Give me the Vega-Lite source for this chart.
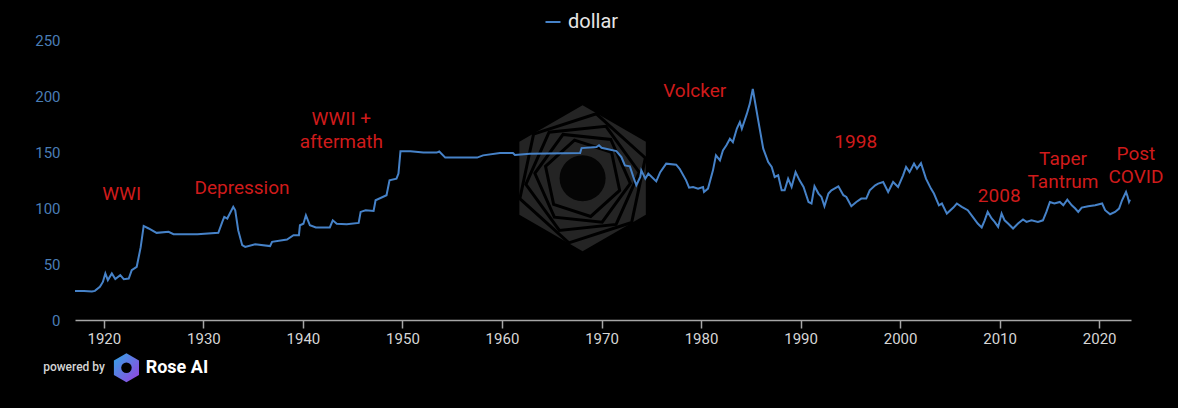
{
  "$schema": "https://vega.github.io/schema/vega-lite/v6.json",
  "width": 1056,
  "height": 280,
  "autosize": "none",
  "padding": {"left": 75, "top": 40, "right": 47, "bottom": 88},
  "background": "#000000",
  "config": {"view": {"stroke": null}, "font": "Roboto"},
  "datasets": {
    "dollar": [
      {"year": 1917.1, "value": 26}, {"year": 1918.0, "value": 26}, {"year": 1918.8, "value": 25.5}, {"year": 1919.1, "value": 26},
      {"year": 1919.6, "value": 29.7}, {"year": 1919.9, "value": 34}, {"year": 1920.15, "value": 41.6}, {"year": 1920.4, "value": 35.6},
      {"year": 1920.8, "value": 41.6}, {"year": 1921.15, "value": 36.5}, {"year": 1921.65, "value": 40}, {"year": 1922.0, "value": 36.5},
      {"year": 1922.5, "value": 37}, {"year": 1922.8, "value": 44.5}, {"year": 1923.3, "value": 47.5}, {"year": 1923.7, "value": 65},
      {"year": 1924.0, "value": 84}, {"year": 1924.5, "value": 81.7}, {"year": 1925.3, "value": 77.8}, {"year": 1926.5, "value": 78.7},
      {"year": 1927.0, "value": 76.6}, {"year": 1929.4, "value": 76.6}, {"year": 1931.5, "value": 77.8}, {"year": 1931.9, "value": 87.6},
      {"year": 1932.1, "value": 92}, {"year": 1932.4, "value": 90.6}, {"year": 1933.0, "value": 101}, {"year": 1933.2, "value": 98},
      {"year": 1933.5, "value": 80}, {"year": 1933.9, "value": 66.8}, {"year": 1934.2, "value": 65.3}, {"year": 1935.2, "value": 67.7},
      {"year": 1936.7, "value": 66}, {"year": 1936.9, "value": 69.8}, {"year": 1938.4, "value": 71.9}, {"year": 1939.05, "value": 75.7},
      {"year": 1939.6, "value": 75.7}, {"year": 1939.7, "value": 84.6}, {"year": 1940.05, "value": 86}, {"year": 1940.3, "value": 93.5},
      {"year": 1940.7, "value": 84.6}, {"year": 1941.3, "value": 82.6}, {"year": 1942.7, "value": 82.6}, {"year": 1943.0, "value": 89},
      {"year": 1943.4, "value": 86}, {"year": 1944.4, "value": 85.5}, {"year": 1945.6, "value": 86.7}, {"year": 1945.8, "value": 96.5},
      {"year": 1946.3, "value": 98}, {"year": 1947.1, "value": 97.4}, {"year": 1947.3, "value": 106.9}, {"year": 1948.4, "value": 111.4},
      {"year": 1948.7, "value": 124.7}, {"year": 1949.4, "value": 126.2}, {"year": 1949.6, "value": 130.7}, {"year": 1949.8, "value": 150.6},
      {"year": 1950.8, "value": 150.6}, {"year": 1952.1, "value": 149.5}, {"year": 1953.45, "value": 149.5}, {"year": 1953.7, "value": 150.5},
      {"year": 1954.3, "value": 145}, {"year": 1957.5, "value": 145}, {"year": 1958.1, "value": 147}, {"year": 1959.8, "value": 149},
      {"year": 1961.1, "value": 149}, {"year": 1961.3, "value": 147.3}, {"year": 1962.8, "value": 148.5}, {"year": 1967.85, "value": 149},
      {"year": 1968.0, "value": 153.5}, {"year": 1969.5, "value": 154.4}, {"year": 1969.75, "value": 156}, {"year": 1970.0, "value": 153.8},
      {"year": 1971.5, "value": 150.8}, {"year": 1972.0, "value": 145.5}, {"year": 1972.35, "value": 138}, {"year": 1972.85, "value": 137.2},
      {"year": 1973.2, "value": 127.7}, {"year": 1973.5, "value": 120.3}, {"year": 1973.9, "value": 127.7}, {"year": 1974.0, "value": 133.6},
      {"year": 1974.4, "value": 126.2}, {"year": 1974.7, "value": 130.7}, {"year": 1975.05, "value": 127.7}, {"year": 1975.5, "value": 123.8},
      {"year": 1975.9, "value": 132}, {"year": 1976.5, "value": 139.6}, {"year": 1977.5, "value": 138.7}, {"year": 1977.85, "value": 135},
      {"year": 1978.5, "value": 124.7}, {"year": 1978.8, "value": 118.2}, {"year": 1979.2, "value": 118.8}, {"year": 1979.7, "value": 117.3},
      {"year": 1980.2, "value": 118.8}, {"year": 1980.3, "value": 114.3}, {"year": 1980.7, "value": 117.3}, {"year": 1981.2, "value": 133.6},
      {"year": 1981.5, "value": 147}, {"year": 1981.9, "value": 142.5}, {"year": 1982.2, "value": 151.4}, {"year": 1982.55, "value": 156},
      {"year": 1982.9, "value": 161.9}, {"year": 1983.2, "value": 158.8}, {"year": 1983.6, "value": 171}, {"year": 1983.9, "value": 176.7},
      {"year": 1984.1, "value": 170.8}, {"year": 1984.6, "value": 184}, {"year": 1984.9, "value": 193}, {"year": 1985.2, "value": 206.4},
      {"year": 1985.4, "value": 196}, {"year": 1985.75, "value": 178}, {"year": 1986.25, "value": 153}, {"year": 1986.75, "value": 141},
      {"year": 1987.1, "value": 136.6}, {"year": 1987.4, "value": 127.7}, {"year": 1987.75, "value": 129.2}, {"year": 1988.1, "value": 115.8},
      {"year": 1988.4, "value": 115.8}, {"year": 1988.75, "value": 126.2}, {"year": 1989.1, "value": 118.8}, {"year": 1989.5, "value": 132},
      {"year": 1989.9, "value": 124.7}, {"year": 1990.3, "value": 118.8}, {"year": 1990.8, "value": 105.4}, {"year": 1991.1, "value": 104},
      {"year": 1991.4, "value": 119.4}, {"year": 1991.8, "value": 112.9}, {"year": 1992.1, "value": 109.9}, {"year": 1992.4, "value": 101.6},
      {"year": 1992.8, "value": 112.9}, {"year": 1993.1, "value": 115.8}, {"year": 1993.4, "value": 117.3}, {"year": 1993.8, "value": 119.4},
      {"year": 1994.3, "value": 111.4}, {"year": 1994.6, "value": 109.9}, {"year": 1995.1, "value": 101.6}, {"year": 1995.6, "value": 105.4},
      {"year": 1996.1, "value": 108.4}, {"year": 1996.6, "value": 108.4}, {"year": 1996.95, "value": 115.8}, {"year": 1997.5, "value": 120.3},
      {"year": 1997.8, "value": 121.8}, {"year": 1998.3, "value": 123.2}, {"year": 1998.8, "value": 114.3}, {"year": 1999.3, "value": 123.2},
      {"year": 1999.8, "value": 118.8}, {"year": 2000.3, "value": 129.2}, {"year": 2000.6, "value": 136.6}, {"year": 2000.95, "value": 132},
      {"year": 2001.4, "value": 139.6}, {"year": 2001.7, "value": 135.1}, {"year": 2002.1, "value": 140.1}, {"year": 2002.6, "value": 126.2},
      {"year": 2003.1, "value": 117.3}, {"year": 2003.4, "value": 112.9}, {"year": 2003.9, "value": 102.4}, {"year": 2004.2, "value": 104},
      {"year": 2004.7, "value": 95}, {"year": 2005.35, "value": 100.4}, {"year": 2005.7, "value": 104}, {"year": 2006.2, "value": 101},
      {"year": 2006.8, "value": 98}, {"year": 2007.3, "value": 92}, {"year": 2007.8, "value": 86.1}, {"year": 2008.2, "value": 82.6},
      {"year": 2008.5, "value": 89}, {"year": 2008.8, "value": 96.5}, {"year": 2009.2, "value": 90.6}, {"year": 2009.5, "value": 87.6},
      {"year": 2009.85, "value": 83.1}, {"year": 2010.2, "value": 95}, {"year": 2010.5, "value": 89}, {"year": 2010.85, "value": 86.1},
      {"year": 2011.35, "value": 81.7}, {"year": 2011.85, "value": 86.1}, {"year": 2012.35, "value": 89.7}, {"year": 2012.7, "value": 87.6},
      {"year": 2013.2, "value": 89}, {"year": 2013.85, "value": 87.6}, {"year": 2014.35, "value": 89}, {"year": 2014.7, "value": 96.5},
      {"year": 2015.05, "value": 105.4}, {"year": 2015.5, "value": 104}, {"year": 2016.05, "value": 105.4}, {"year": 2016.4, "value": 102.4},
      {"year": 2016.8, "value": 107.5}, {"year": 2017.25, "value": 102.4}, {"year": 2017.6, "value": 99.5}, {"year": 2017.9, "value": 96.5},
      {"year": 2018.25, "value": 100.4}, {"year": 2018.9, "value": 101.6}, {"year": 2019.6, "value": 102.4}, {"year": 2020.3, "value": 104},
      {"year": 2020.6, "value": 98}, {"year": 2021.1, "value": 94.4}, {"year": 2021.6, "value": 96.5}, {"year": 2022.0, "value": 99.5},
      {"year": 2022.3, "value": 106.9}, {"year": 2022.7, "value": 114.3}, {"year": 2022.85, "value": 110.5}, {"year": 2023.0, "value": 105.4},
      {"year": 2023.1, "value": 107.5}
    ],
    "notes": [
      {"year": 1921.79, "value": 112.2, "label": "WWI"},
      {"year": 1933.88, "value": 118.1, "label": "Depression"},
      {"year": 1943.86, "value": 179.2, "label": "WWII +\naftermath"},
      {"year": 1979.36, "value": 204.7, "label": "Volcker"},
      {"year": 1995.54, "value": 158.7, "label": "1998"},
      {"year": 2009.96, "value": 110.7, "label": "2008"},
      {"year": 2016.37, "value": 143.8, "label": "Taper\nTantrum"},
      {"year": 2023.7, "value": 148.2, "label": "Post\nCOVID"}
    ],
    "watermark": [{"year": 1968.1, "value": 126.5}],
    "logo": [{"year": 1922.27, "value": -42.6}],
    "powered": [{"year": 1913.9, "value": -42.3, "label": "powered by"}],
    "brand": [{"year": 1924.2, "value": -42.6, "label": "Rose AI"}]
  },
  "encoding": {
    "x": {
      "field": "year", "type": "quantitative",
      "scale": {"domain": [1917.1, 2023.2], "nice": false, "zero": false},
      "axis": {
        "values": [1920, 1930, 1940, 1950, 1960, 1970, 1980, 1990, 2000, 2010, 2020],
        "format": "d", "title": null, "grid": false,
        "domainColor": "#a6a6a6", "domainWidth": 1.5,
        "tickColor": "#a6a6a6", "tickWidth": 1.5, "tickSize": 8,
        "labelColor": "#d6d6d6", "labelFontSize": 15, "labelPadding": 3, "labelFlush": false
      }
    },
    "y": {
      "field": "value", "type": "quantitative",
      "scale": {"domain": [0, 250], "nice": false, "zero": false},
      "axis": {
        "values": [0, 50, 100, 150, 200, 250], "title": null, "grid": false,
        "domain": false, "ticks": false,
        "labelColor": "#4a7db5", "labelFontSize": 15, "labelPadding": 15
      }
    }
  },
  "layer": [
    {"data": {"name": "watermark"}, "mark": {"type": "point", "shape": "M0,-1L0.866,-0.5L0.866,0.5L0,1L-0.866,0.5L-0.866,-0.5Z", "filled": true, "color": "#242424", "opacity": 1, "size": 21316}},
    {"data": {"name": "watermark"}, "mark": {"type": "point", "shape": "M0.208,-0.978L0.951,-0.309L0.743,0.669L-0.208,0.978L-0.951,0.309L-0.743,-0.669Z", "filled": false, "stroke": "#000000", "strokeWidth": 3, "opacity": 1, "size": 17424}},
    {"data": {"name": "watermark"}, "mark": {"type": "point", "shape": "M0.407,-0.914L0.995,-0.105L0.588,0.809L-0.407,0.914L-0.995,0.105L-0.588,-0.809Z", "filled": false, "stroke": "#000000", "strokeWidth": 3, "opacity": 1, "size": 12996}},
    {"data": {"name": "watermark"}, "mark": {"type": "point", "shape": "M0.588,-0.809L0.995,0.105L0.407,0.914L-0.588,0.809L-0.995,-0.105L-0.407,-0.914Z", "filled": false, "stroke": "#000000", "strokeWidth": 3, "opacity": 1, "size": 9216}},
    {"data": {"name": "watermark"}, "mark": {"type": "point", "shape": "M0.743,-0.669L0.951,0.309L0.208,0.978L-0.743,0.669L-0.951,-0.309L-0.208,-0.978Z", "filled": false, "stroke": "#000000", "strokeWidth": 3, "opacity": 1, "size": 6084}},
    {"data": {"name": "watermark"}, "mark": {"type": "point", "shape": "circle", "filled": true, "color": "#050505", "opacity": 1, "size": 2116}},
    {
      "data": {"name": "dollar"},
      "mark": {"type": "line", "strokeWidth": 2, "interpolate": "linear"},
      "encoding": {
        "color": {
          "datum": "dollar", "type": "nominal",
          "scale": {"range": ["#4682c8"]},
          "legend": {
            "title": null, "orient": "none", "legendX": 468, "legendY": -28,
            "direction": "horizontal", "symbolType": "stroke", "symbolSize": 225, "symbolStrokeWidth": 2,
            "labelColor": "#e6e6e6", "labelFontSize": 20, "labelOffset": 5, "padding": 0
          }
        }
      }
    },
    {
      "data": {"name": "notes"},
      "mark": {"type": "text", "color": "#cf1b1b", "fontSize": 19, "align": "center", "baseline": "middle", "lineBreak": "\n", "lineHeight": 23},
      "encoding": {"text": {"field": "label", "type": "nominal"}}
    },
    {"data": {"name": "logo"}, "mark": {"type": "point", "shape": "M0,-1L0.866,-0.5L0.866,0.5L0,1L-0.866,0.5L-0.866,-0.5Z", "filled": true, "opacity": 1, "size": 841, "fill": {"gradient": "linear", "x1": 0, "y1": 0, "x2": 1, "y2": 1, "stops": [{"offset": 0, "color": "#2fa8e6"}, {"offset": 1, "color": "#9a3ee0"}]}}},
    {"data": {"name": "logo"}, "mark": {"type": "point", "shape": "circle", "filled": true, "color": "#000000", "opacity": 1, "size": 110}},
    {
      "data": {"name": "powered"},
      "mark": {"type": "text", "color": "#d4d4d4", "fontSize": 12, "fontWeight": 500, "align": "left", "baseline": "middle"},
      "encoding": {"text": {"field": "label", "type": "nominal"}}
    },
    {
      "data": {"name": "brand"},
      "mark": {"type": "text", "color": "#ffffff", "fontSize": 18, "fontWeight": "bold", "align": "left", "baseline": "middle"},
      "encoding": {"text": {"field": "label", "type": "nominal"}}
    }
  ]
}
